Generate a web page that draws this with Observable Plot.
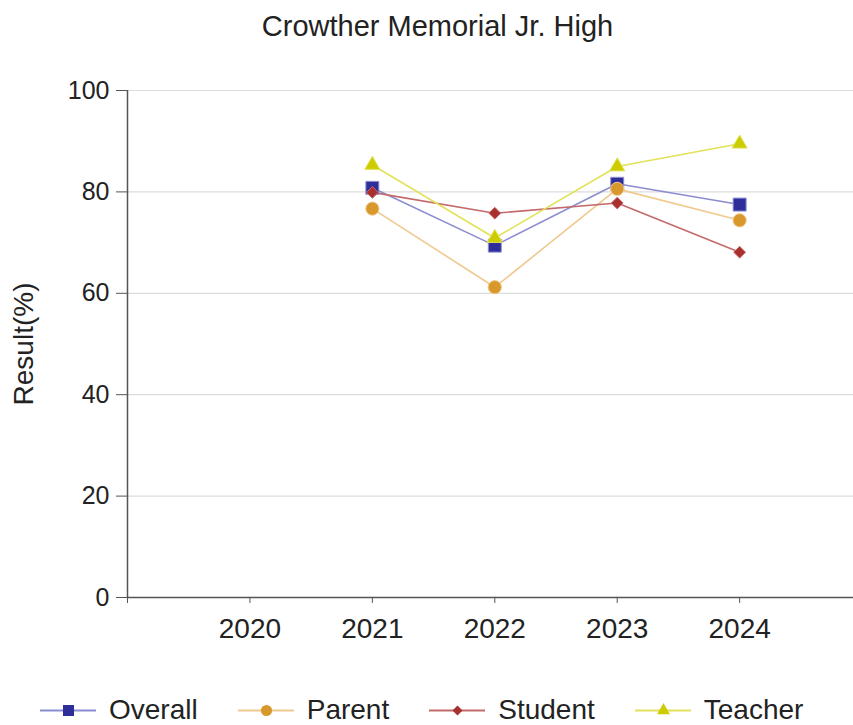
<!DOCTYPE html>
<html>
<head>
<meta charset="utf-8">
<script src="https://cdn.jsdelivr.net/npm/d3@7"></script>
<script src="https://cdn.jsdelivr.net/npm/@observablehq/plot@0.6"></script>
<style>
  html, body { margin: 0; padding: 0; background: #fff; overflow: hidden; }
  body { width: 853px; height: 725px; font-family: "Liberation Sans", Arial, sans-serif; color: #222; }
  #title { position: absolute; left: 0; top: 0; width: 853px; height: 52px; line-height: 52px; text-align: center; font-size: 29px; padding-left: 22px; box-sizing: border-box; color: #222; }
  #legend { position: absolute; left: 40px; top: 694px; display: flex; gap: 40px; align-items: center; font-size: 28px; color: #222; }
  .item { display: flex; align-items: center; gap: 13px; }
  #chart { position: absolute; left: 0; top: 55px; }
</style>
</head>
<body>
<div id="title">Crowther Memorial Jr. High</div>
<div id="chart"></div>
<div id="legend"></div>
<script>
const years = [2021, 2022, 2023, 2024];
const overall = [80.8, 69.4, 81.6, 77.5];
const parent = [76.7, 61.2, 80.6, 74.4];
const student = [79.9, 75.8, 77.8, 68.1];
const teacher = [85.3, 70.9, 85.0, 89.5];
const seriesNames = ["Overall", "Parent", "Student", "Teacher"];
const xTicks = [2019, 2020, 2021, 2022, 2023, 2024];
const yTicks = [0, 20, 40, 60, 80, 100];
const yLabel = "Result(%)";

const styles = {
  Overall: {values: overall, fill: "#2e2e9a", line: "#8c8cd0", symbol: "square", r: 7.3},
  Parent: {values: parent, fill: "#d9982c", line: "#f0c98e", symbol: "circle", r: 6.6},
  Student: {values: student, fill: "#a8302e", line: "#c46a6a", symbol: "diamond2", r: 5.3},
  Teacher: {values: teacher, fill: "#cccc00", line: "#e2e25a", symbol: "triangle", r: 5.6}
};

const marks = [
  Plot.ruleY(yTicks.filter(d => d > 0), {stroke: "#dcdcdc", strokeWidth: 1.2}),
  Plot.axisY({ticks: yTicks, tickSize: 11, tickPadding: 7, fontSize: 25, label: null, stroke: "#555"}),
  Plot.axisX({ticks: xTicks, tickSize: 6, tickPadding: 15, fontSize: 28, label: null, tickFormat: d => d === 2019 ? "" : String(d), stroke: "#555"}),
  Plot.text([yLabel], {frameAnchor: "left", textAnchor: "middle", dx: -103, rotate: -90, fontSize: 28, fill: "#222"}),
  Plot.ruleX([2019], {stroke: "#555", strokeWidth: 1.5}),
  Plot.ruleY([0], {stroke: "#555", strokeWidth: 1.5})
];

for (const name of seriesNames) {
  const s = styles[name];
  const data = years.map((y, i) => ({year: y, value: s.values[i]}));
  marks.push(Plot.line(data, {x: "year", y: "value", stroke: s.line, strokeWidth: 1.6}));
}
for (const name of seriesNames) {
  const s = styles[name];
  const data = years.map((y, i) => ({year: y, value: s.values[i]}));
  marks.push(Plot.dot(data, {x: "year", y: "value", symbol: () => s.symbol, fill: s.fill, stroke: s.line, strokeWidth: 1, r: s.r}));
}

const chart = Plot.plot({
  width: 853,
  height: 605,
  marginLeft: 127,
  marginRight: 0,
  marginTop: 35,
  marginBottom: 63,
  style: {fontFamily: "'Liberation Sans', Arial, sans-serif", color: "#222", background: "transparent"},
  x: {domain: [2019, 2024.93], axis: null},
  y: {domain: [0, 100], axis: null},
  symbol: {type: "identity"},
  marks
});
document.getElementById("chart").appendChild(chart);

const legend = document.getElementById("legend");
for (const name of seriesNames) {
  const s = styles[name];
  const item = document.createElement("div");
  item.className = "item";
  const sw = Plot.plot({
    width: 56, height: 24, margin: 0,
    x: {domain: [0, 1], axis: null}, y: {domain: [0, 1], axis: null},
    symbol: {type: "identity"},
    marks: [
      Plot.line([{a: 0, b: 0.5}, {a: 1, b: 0.5}], {x: "a", y: "b", stroke: s.line, strokeWidth: 2}),
      Plot.dot([{a: 0.5, b: 0.5}], {x: "a", y: "b", symbol: () => s.symbol, fill: s.fill, r: s.r * 0.85})
    ]
  });
  item.appendChild(sw);
  const t = document.createElement("span");
  t.textContent = name;
  item.appendChild(t);
  legend.appendChild(item);
}
</script>
</body>
</html>
